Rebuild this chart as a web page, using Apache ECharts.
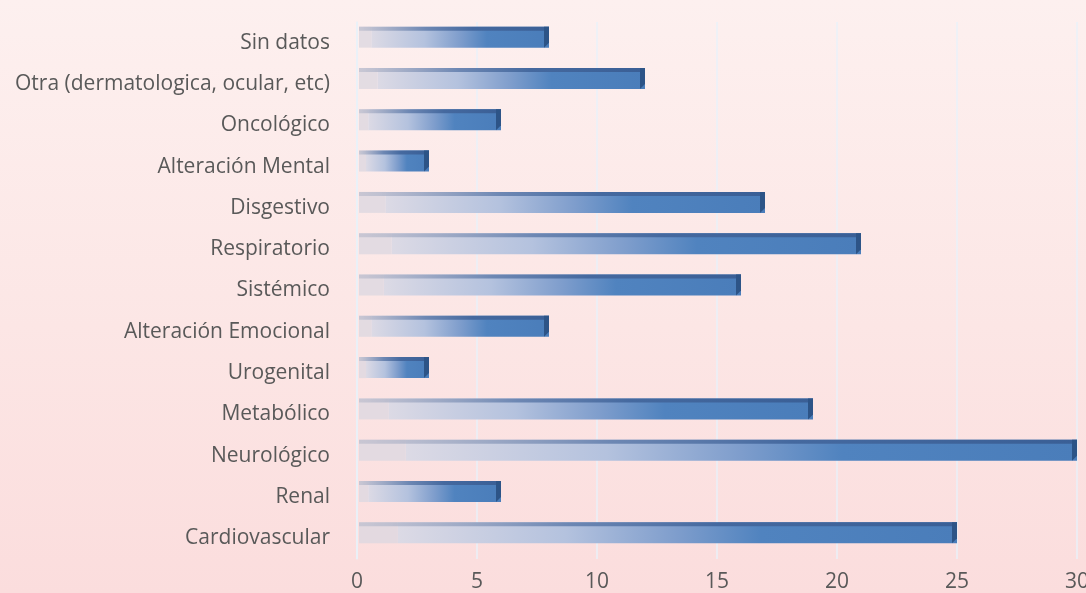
<!DOCTYPE html>
<html><head><meta charset="utf-8">
<script src="https://cdn.jsdelivr.net/npm/echarts@6/dist/echarts.min.js"></script>
<style>html,body{margin:0;padding:0;}#c{width:1086px;height:593px;background:linear-gradient(to bottom,#fdf0ef 0%,#fce6e5 55%,#fbdddd 100%);}</style>
</head><body><div id="c"></div>
<script>
const categories = ["Cardiovascular","Renal","Neurológico","Metabólico","Urogenital","Alteración Emocional","Sistémico","Respiratorio","Disgestivo","Alteración Mental","Oncológico","Otra (dermatologica, ocular, etc)","Sin datos"];
const values = [25,6,30,19,3,8,16,21,17,3,6,12,8];
const xTicks = [0,5,10,15,20,25,30];

const chart = echarts.init(document.getElementById('c'), null, {renderer:'canvas'});
function renderItem(params, api){
  const idx = api.value(0), val = api.value(1);
  const s = api.coord([0, idx]);
  const e = api.coord([val, idx]);
  const bh = 21;
  const cy = e[1]-5.5;
  const top = cy-bh/2, bot = cy+bh/2;
  const x0 = s[0]+2, x1 = e[0];
  const w = x1-x0;
  const inset = Math.max(7, w*0.065);
  const grad = new echarts.graphic.LinearGradient(0,0,1,0,[
    {offset:0,color:'#dcdae5'},
    {offset:0.3,color:'#b4c2de'},
    {offset:0.5,color:'#7e9dcc'},
    {offset:0.65,color:'#5083bf'},
    {offset:1,color:'#4a7dba'}
  ]);
  const topGrad = new echarts.graphic.LinearGradient(0,0,1,0,[
    {offset:0,color:'rgba(190,190,205,0.7)'},
    {offset:0.35,color:'#6d87b3'},
    {offset:0.6,color:'#45699f'},
    {offset:1,color:'#3a5f96'}
  ]);
  return {type:'group', children:[
    {type:'rect', shape:{x:x0,y:top,width:inset,height:bh}, style:{fill:'rgba(222,216,224,0.85)'}},
    {type:'rect', shape:{x:x0+inset,y:top,width:w-inset,height:bh}, style:{fill:grad}},
    {type:'rect', shape:{x:x0,y:top,width:w,height:4}, style:{fill:topGrad}},
    {type:'polygon', shape:{points:[[x1-5,top],[x1,top],[x1,bot-5],[x1-5,bot]]}, style:{fill:'#2d5487'}}
  ]};
}
chart.setOption({
  animation:false,
  grid:{left:357,right:9,top:22,bottom:34,containLabel:false,outerBoundsMode:'none'},
  xAxis:{type:'value',min:0,max:30,interval:5,
    axisLine:{show:false},axisTick:{show:false},
    splitLine:{show:true,lineStyle:{color:'rgba(232,240,249,0.95)',width:1.5}},
    axisLabel:{margin:13,fontSize:21,color:'#595959',fontFamily:'"Open Sans", "Liberation Sans", sans-serif',
      formatter:v=>xTicks.includes(v)?String(v):''}},
  yAxis:{type:'category',data:categories,
    axisLine:{show:true,lineStyle:{color:'rgba(232,240,249,0.95)',width:1.5}},axisTick:{show:false},
    axisLabel:{margin:27,fontSize:21,color:'#595959',fontFamily:'"Open Sans", "Liberation Sans", sans-serif'}},
  series:[{type:'custom',renderItem:renderItem,encode:{x:1,y:0},
    data:values.map((v,i)=>[i,v])}]
});
</script></body></html>
